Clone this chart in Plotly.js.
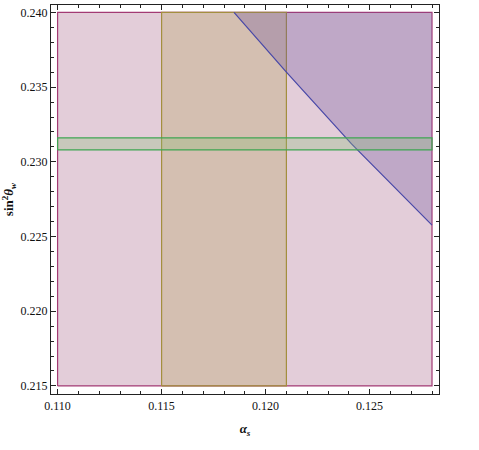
<!DOCTYPE html>
<html>
<head>
<meta charset="utf-8">
<script src="https://cdn.plot.ly/plotly-3.0.1.min.js"></script>
<style>html,body{margin:0;padding:0;background:#fff;}#chart{width:479px;height:450px;}</style>
</head>
<body>
<div id="chart"></div>
<script>
// Region bounds
const pinkX = [0.110, 0.128];
const pinkY = [0.215, 0.240];
const orangeX = [0.115, 0.121];
const orangeY = [0.215, 0.240];
const greenX = [0.110, 0.128];
const greenY = [0.2308, 0.2316];
// Boundary curve of the purple region (upper right)
const curveX = [0.11848, 0.1210, 0.12413, 0.1280];
const curveY = [0.2400, 0.2360, 0.2312, 0.22576];
const xTicks = [0.110, 0.115, 0.120, 0.125];
const yTicks = [0.215, 0.220, 0.225, 0.230, 0.235, 0.240];

function rect(xs, ys) {
  return {x: [xs[0], xs[1], xs[1], xs[0], xs[0]], y: [ys[0], ys[0], ys[1], ys[1], ys[0]]};
}
const pr = rect(pinkX, pinkY), orr = rect(orangeX, orangeY), gr = rect(greenX, greenY);
const purpX = curveX.concat([pinkX[1], curveX[0]]);
const purpY = curveY.concat([pinkY[1], curveY[0]]);

const traces = [
  {x: pr.x, y: pr.y, mode: 'lines', fill: 'toself', fillcolor: 'rgba(162,88,128,0.3)',
   line: {color: '#a33a74', width: 1.2}, hoverinfo: 'skip'},
  {x: orr.x, y: orr.y, mode: 'lines', fill: 'toself', fillcolor: 'rgba(180,158,87,0.3)',
   line: {color: '#a38f3e', width: 1.2}, hoverinfo: 'skip'},
  {x: purpX, y: purpY, mode: 'lines', fill: 'toself', fillcolor: 'rgba(110,82,160,0.3)',
   line: {width: 0}, hoverinfo: 'skip'},
  {x: curveX, y: curveY, mode: 'lines', line: {color: '#4848a8', width: 1.2}, hoverinfo: 'skip'},
  {x: gr.x, y: gr.y, mode: 'lines', fill: 'toself', fillcolor: 'rgba(140,188,120,0.3)',
   line: {color: '#3ea552', width: 1.2}, hoverinfo: 'skip'}
];

const axCommon = {
  showline: true, linecolor: '#222', linewidth: 1.2, mirror: 'allticks',
  ticks: 'inside', ticklen: 5, tickwidth: 1, tickcolor: '#222',
  showgrid: false, zeroline: false, tickformat: '.3f',
  tickfont: {family: 'Liberation Serif, Times New Roman, serif', size: 12, color: '#111'},
  minor: {ticks: 'inside', ticklen: 3, tickwidth: 1, tickcolor: '#222', dtick: 0.001, showgrid: false}
};

const layout = {
  width: 479, height: 450,
  margin: {l: 51, r: 40, t: 5, b: 56},
  paper_bgcolor: '#fff', plot_bgcolor: '#fff',
  showlegend: false,
  xaxis: Object.assign({}, axCommon, {
    range: [0.109683, 0.128336], tickvals: xTicks,
    title: {text: '<b><i>α<sub>s</sub></i></b>', standoff: 12,
            font: {family: 'Liberation Serif, serif', size: 13, color: '#111'}}
  }),
  yaxis: Object.assign({}, axCommon, {
    range: [0.21446, 0.2405], tickvals: yTicks,
    title: {text: '<b>sin<sup>2</sup><i>θ<sub>w</sub></i></b>', standoff: 8,
            font: {family: 'Liberation Serif, serif', size: 13, color: '#111'}}
  })
};

Plotly.newPlot('chart', traces, layout, {staticPlot: true, displayModeBar: false});
</script>
</body>
</html>
